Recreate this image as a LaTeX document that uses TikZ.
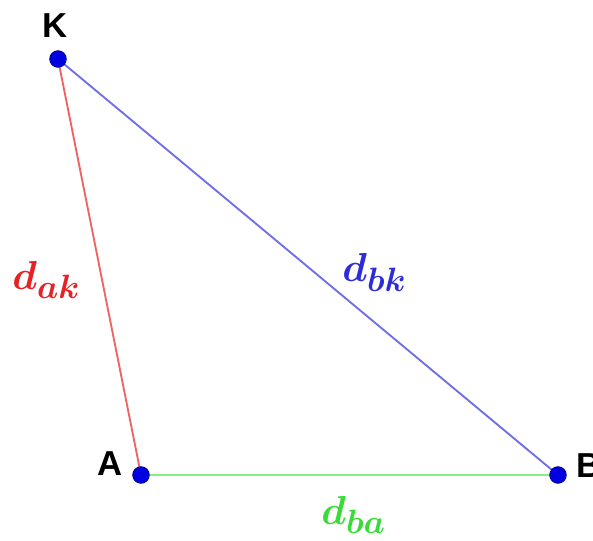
\documentclass[tikz,border=0pt]{standalone}
\usepackage{fontspec}
\newfontfamily\labfont{Liberation Sans}
\definecolor{linered}{RGB}{238,100,100}
\definecolor{lineblue}{RGB}{110,110,235}
\definecolor{linegreen}{RGB}{130,240,130}
\definecolor{labred}{RGB}{228,35,40}
\definecolor{labblue}{RGB}{45,45,215}
\definecolor{labgreen}{RGB}{55,220,55}
\definecolor{dotblue}{RGB}{0,0,225}
\definecolor{dotedge}{RGB}{0,0,140}
\begin{document}
\begin{tikzpicture}[x=0.75pt,y=0.75pt,
  pt/.style={circle,fill=dotblue,draw=dotedge,line width=0.6pt,minimum size=12.5pt,inner sep=0pt},
  vlabel/.style={inner sep=0pt,font=\labfont\bfseries\fontsize{26}{30}\selectfont},
  dlabel/.style={inner sep=0pt,anchor=base west,scale=1.22,transform shape,font=\Huge\boldmath},
  edge/.style={line width=1.4pt}]
\useasboundingbox (0,0) rectangle (593,540);
\coordinate (Kc) at (58,481);
\coordinate (Ac) at (141,65);
\coordinate (Bc) at (558,65);
\draw[edge,linered] (Kc) -- (Ac);
\draw[edge,lineblue] (Kc) -- (Bc);
\draw[edge,linegreen] (Ac) -- (Bc);
\node[pt] (K) at (Kc) {};
\node[pt] (A) at (Ac) {};
\node[pt] (B) at (Bc) {};
\node[vlabel,anchor=base] (KL) at (55,502) {K};
\node[vlabel,anchor=base east] (AL) at (123,65) {A};
\node[vlabel,anchor=base west] (BL) at (576,63) {B};
\node[dlabel,text=labred] (dak) at (12,251) {$d_{ak}$};
\node[dlabel,text=labblue] (dbk) at (342,258) {$d_{bk}$};
\node[dlabel,text=labgreen] (dba) at (321,16) {$d_{ba}$};
\end{tikzpicture}
\end{document}
